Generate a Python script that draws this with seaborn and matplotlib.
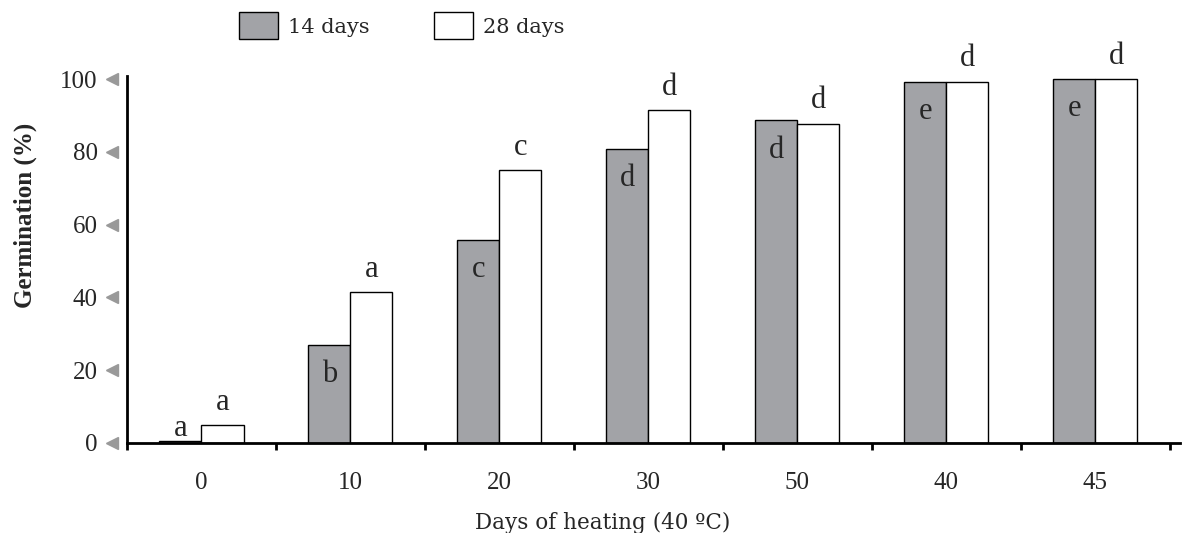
import numpy as np
import pandas as pd
import matplotlib.pyplot as plt
import matplotlib.transforms as mtransforms
import seaborn as sns


sns.set_theme(style="white")

heating_days = ["0", "10", "20", "30", "50", "40", "45"]
germ_14 = [0.4, 27.0, 55.8, 80.9, 88.7, 99.3, 100.0]
germ_28 = [4.9, 41.5, 75.0, 91.5, 87.8, 99.3, 100.0]
letters_14 = ["a", "b", "c", "d", "d", "e", "e"]
letters_28 = ["a", "a", "c", "d", "d", "d", "d"]
periods = ["14 days", "28 days"]
y_ticks = [0, 20, 40, 60, 80, 100]

df = pd.DataFrame({
    "Days": heating_days * 2,
    "Germination": germ_14 + germ_28,
    "Period": [periods[0]] * len(heating_days) + [periods[1]] * len(heating_days),
})

serif_num = "Liberation Serif"
serif_txt = "DejaVu Serif"

fig = plt.figure(figsize=(11.92, 5.33), dpi=100)
ax = fig.add_axes([0.1065, 0.169, 0.8835, 0.688])

sns.barplot(
    data=df, x="Days", y="Germination", hue="Period", order=heating_days,
    hue_order=periods, palette=["#a2a3a7", "#ffffff"], edgecolor="black",
    linewidth=1.0, width=0.565, saturation=1, ax=ax, legend=False,
)

ax.set_xlim(-0.5, 6.57)
ax.set_ylim(0, 100.8)

for side in ["top", "right"]:
    ax.spines[side].set_visible(False)
for side in ["left", "bottom"]:
    ax.spines[side].set_color("black")
    ax.spines[side].set_linewidth(2)

# x: labels at group centres, small ticks at group boundaries
ax.set_xticks(range(len(heating_days)))
ax.set_xticklabels(heating_days, fontfamily=serif_num, fontsize=18)
ax.set_xticks(np.arange(-0.5, len(heating_days), 1.0), minor=True)
ax.tick_params(axis="x", which="major", length=0, pad=21)
ax.tick_params(axis="x", which="minor", bottom=True, length=5, width=2,
               color="black", direction="out")

# y: gray triangles instead of tick marks
ax.set_yticks(y_ticks)
ax.set_yticklabels([str(t) for t in y_ticks], fontfamily=serif_num, fontsize=18)
ax.tick_params(axis="y", length=0, pad=21)
trans = mtransforms.blended_transform_factory(ax.transAxes, ax.transData)
ax.plot([-0.0145] * len(y_ticks), y_ticks, linestyle="none", marker="<",
        markersize=9, color="#999999", transform=trans, clip_on=False)

ax.set_xlabel("Days of heating (40 ºC)", fontfamily=serif_txt, fontsize=15.5)
ax.xaxis.set_label_coords(0.452, -0.188)
ax.set_ylabel("Germination (%)", fontfamily=serif_num, fontsize=18,
              fontweight="bold")
ax.yaxis.set_label_coords(-0.085, 0.62)

# significance letters
bars_14, bars_28 = ax.containers[0], ax.containers[1]
for bar, txt in zip(bars_14, letters_14):
    cx = bar.get_x() + bar.get_width() / 2
    h = bar.get_height()
    if h > 10:
        ax.annotate(txt, (cx, h), xytext=(0, -11), textcoords="offset points",
                    ha="center", va="top", fontsize=22, fontfamily=serif_num)
    else:
        ax.annotate(txt, (cx, h), xytext=(0, -1), textcoords="offset points",
                    ha="center", va="bottom", fontsize=22, fontfamily=serif_num)
for bar, txt in zip(bars_28, letters_28):
    cx = bar.get_x() + bar.get_width() / 2
    h = bar.get_height()
    ax.annotate(txt, (cx, h), xytext=(0, 6), textcoords="offset points",
                ha="center", va="bottom", fontsize=22, fontfamily=serif_num)

# legend
handles = [plt.Rectangle((0, 0), 1, 1, facecolor=c, edgecolor="black", linewidth=1)
           for c in ["#a2a3a7", "#ffffff"]]
fig.legend(handles, periods, loc="upper left", bbox_to_anchor=(0.185, 1.012),
           ncol=2, frameon=False, handlelength=1.85, handleheight=1.6,
           handletextpad=0.5, columnspacing=3.1,
           prop={"family": serif_txt, "size": 15})

fig.savefig("out.png", dpi=100)
